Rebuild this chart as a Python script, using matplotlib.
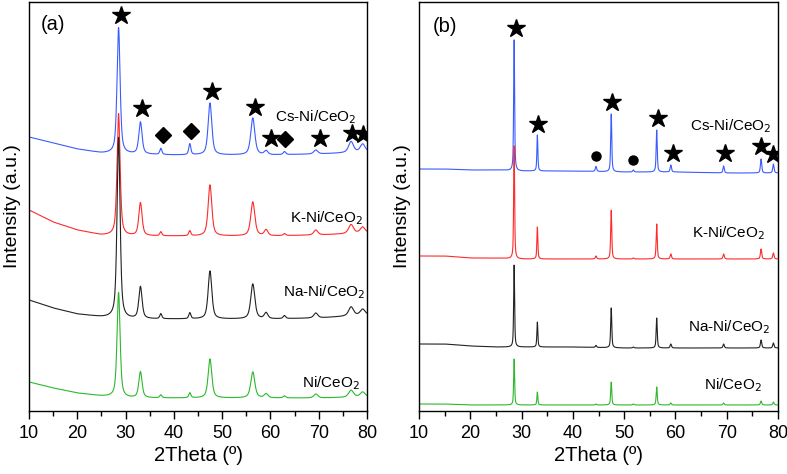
import numpy as np
import matplotlib
matplotlib.use("Agg")
import matplotlib.pyplot as plt

plt.rcParams['font.family'] = ['Liberation Sans', 'DejaVu Sans']

# ---------------- data ----------------
samples = ["Cs-Ni/CeO$_2$", "K-Ni/CeO$_2$", "Na-Ni/CeO$_2$", "Ni/CeO$_2$"]
colors = ["#3a5cff", "#ff2a2a", "#222222", "#2db82d"]

bg_x = [10, 15, 20, 25, 30, 40, 50, 60, 70, 80]

# panel (a): broad, as-prepared patterns
peaks_a = [28.55, 33.08, 37.3, 43.3, 47.48, 56.35, 59.1, 62.9, 69.4, 76.7, 79.1]
fwhm_a = [0.75, 0.8, 0.5, 0.5, 0.9, 1.0, 0.9, 0.6, 1.0, 1.2, 1.2]
bg_a = {
    "Cs": [274, 268, 262, 258, 257, 256, 256, 256, 257, 259],
    "K":  [201, 189, 181, 176, 175, 175, 175, 175, 176, 178],
    "Na": [111, 103, 97, 94, 92, 92, 92, 92, 93, 96],
    "Ni": [29, 23, 18, 15, 13, 13, 13, 13, 13, 14],
}
heights_a = {
    "Cs": [126, 32, 6, 11, 52, 37, 4, 3, 4, 11, 8],
    "K":  [122, 33, 4, 5, 51, 34, 6, 2, 5, 9, 6],
    "Na": [181, 32, 5, 6, 48, 35, 6, 3, 5, 9, 6],
    "Ni": [105, 26, 3, 5, 39, 26, 4, 2, 4, 7, 5],
}

# panel (b): sharp patterns
peaks_b = [28.55, 33.08, 44.5, 47.48, 51.8, 56.35, 59.1, 69.4, 76.7, 79.1]
fwhm_b = [0.22, 0.22, 0.3, 0.25, 0.3, 0.25, 0.3, 0.3, 0.3, 0.3]
bg_b = {
    "Cs": [242, 242, 241, 241, 240, 240, 239, 239, 238, 238],
    "K":  [155, 155, 153, 153, 152, 152, 152, 152, 152, 152],
    "Na": [67, 67, 65, 64, 64, 64, 63, 63, 63, 63],
    "Ni": [7, 7, 6, 6, 6, 6, 6, 6, 6, 6],
}
heights_b = {
    "Cs": [131, 36, 5, 58, 2, 42, 7, 7, 14, 9],
    "K":  [113, 32, 3, 49, 1, 35, 5, 5, 10, 6],
    "Na": [82, 25, 2, 40, 1, 30, 4, 4, 8, 5],
    "Ni": [46, 13, 1, 23, 1, 18, 2, 2, 4, 3],
}
keys = ["Cs", "K", "Na", "Ni"]

# phase markers
stars_a_x = [29.0, 33.4, 47.9, 56.8, 60.1, 70.2, 76.8, 79.2]
stars_a_y = [396, 303, 320, 304, 273, 273, 278, 277]
diam_a_x = [37.7, 43.5, 63.0]
diam_a_y = [276, 280, 272]
stars_b_x = [28.9, 33.2, 47.6, 56.6, 59.5, 69.6, 76.7, 79.0]
stars_b_y = [383, 287, 309, 293, 258, 258, 265, 257]
circ_b_x = [44.5, 51.7]
circ_b_y = [255, 251]

label_a_pos = [(357, 294), (363, 193), (365, 119), (360, 28)]
label_b_pos = [(772, 285), (765, 178), (770, 84), (762, 26)]


def pattern(x, peaks, fwhm, heights, bgv):
    y = np.interp(x, bg_x, bgv)
    for p, w, h in zip(peaks, fwhm, heights):
        g = w / 2.0
        lor = g**2 / ((x - p) ** 2 + g**2)
        gau = np.exp(-np.log(2) * ((x - p) / g) ** 2)
        y = y + h * (0.6 * lor + 0.4 * gau)
    return y


x = np.linspace(10, 80, 3500)

fig = plt.figure(figsize=(7.87, 4.74), dpi=100)
ax_a = fig.add_axes([29 / 787, 63 / 474, 338 / 787, 409 / 474])
ax_b = fig.add_axes([419 / 787, 63 / 474, 359 / 787, 409 / 474])

def xfrom_px_a(px):
    return 10 + (px - 29) * 70 / 338

def xfrom_px_b(px):
    return 10 + (px - 419) * 70 / 359

for k, c in zip(keys, colors):
    ax_a.plot(x, pattern(x, peaks_a, fwhm_a, heights_a[k], bg_a[k]), color=c, lw=0.8)
    ax_b.plot(x, pattern(x, peaks_b, fwhm_b, heights_b[k], bg_b[k]), color=c, lw=0.8)

ax_a.plot(stars_a_x, stars_a_y, ls="none", marker="*", ms=13.5, color="black")
ax_a.plot(diam_a_x, diam_a_y, ls="none", marker="D", ms=8, color="black")
ax_b.plot(stars_b_x, stars_b_y, ls="none", marker="*", ms=13.5, color="black")
ax_b.plot(circ_b_x, circ_b_y, ls="none", marker="o", ms=6.5, color="black")

for (px, py), s in zip(label_a_pos, samples):
    ax_a.text(xfrom_px_a(px), py, s, ha="right", va="center", fontsize=11)
for (px, py), s in zip(label_b_pos, samples):
    ax_b.text(xfrom_px_b(px), py, s, ha="right", va="center", fontsize=11)

ax_a.text(xfrom_px_a(53), 386, "(a)", ha="center", va="center", fontsize=14.5)
ax_b.text(xfrom_px_b(445), 384, "(b)", ha="center", va="center", fontsize=14.5)

for ax in (ax_a, ax_b):
    ax.set_xlim(10, 80)
    ax.set_ylim(0, 409)
    ax.set_xticks([10, 20, 30, 40, 50, 60, 70, 80])
    ax.set_xticks([15, 25, 35, 45, 55, 65, 75], minor=True)
    ax.set_yticks([])
    ax.tick_params(axis="x", which="major", direction="out", length=6, width=1, labelsize=13, pad=4)
    ax.tick_params(axis="x", which="minor", direction="out", length=3.5, width=1)
    ax.set_xlabel("2Theta (º)", fontsize=14.5, labelpad=3)
    ax.set_ylabel("Intensity (a.u.)", fontsize=14, labelpad=6)
    for sp in ax.spines.values():
        sp.set_linewidth(1.0)

fig.savefig("out.png", dpi=100)
